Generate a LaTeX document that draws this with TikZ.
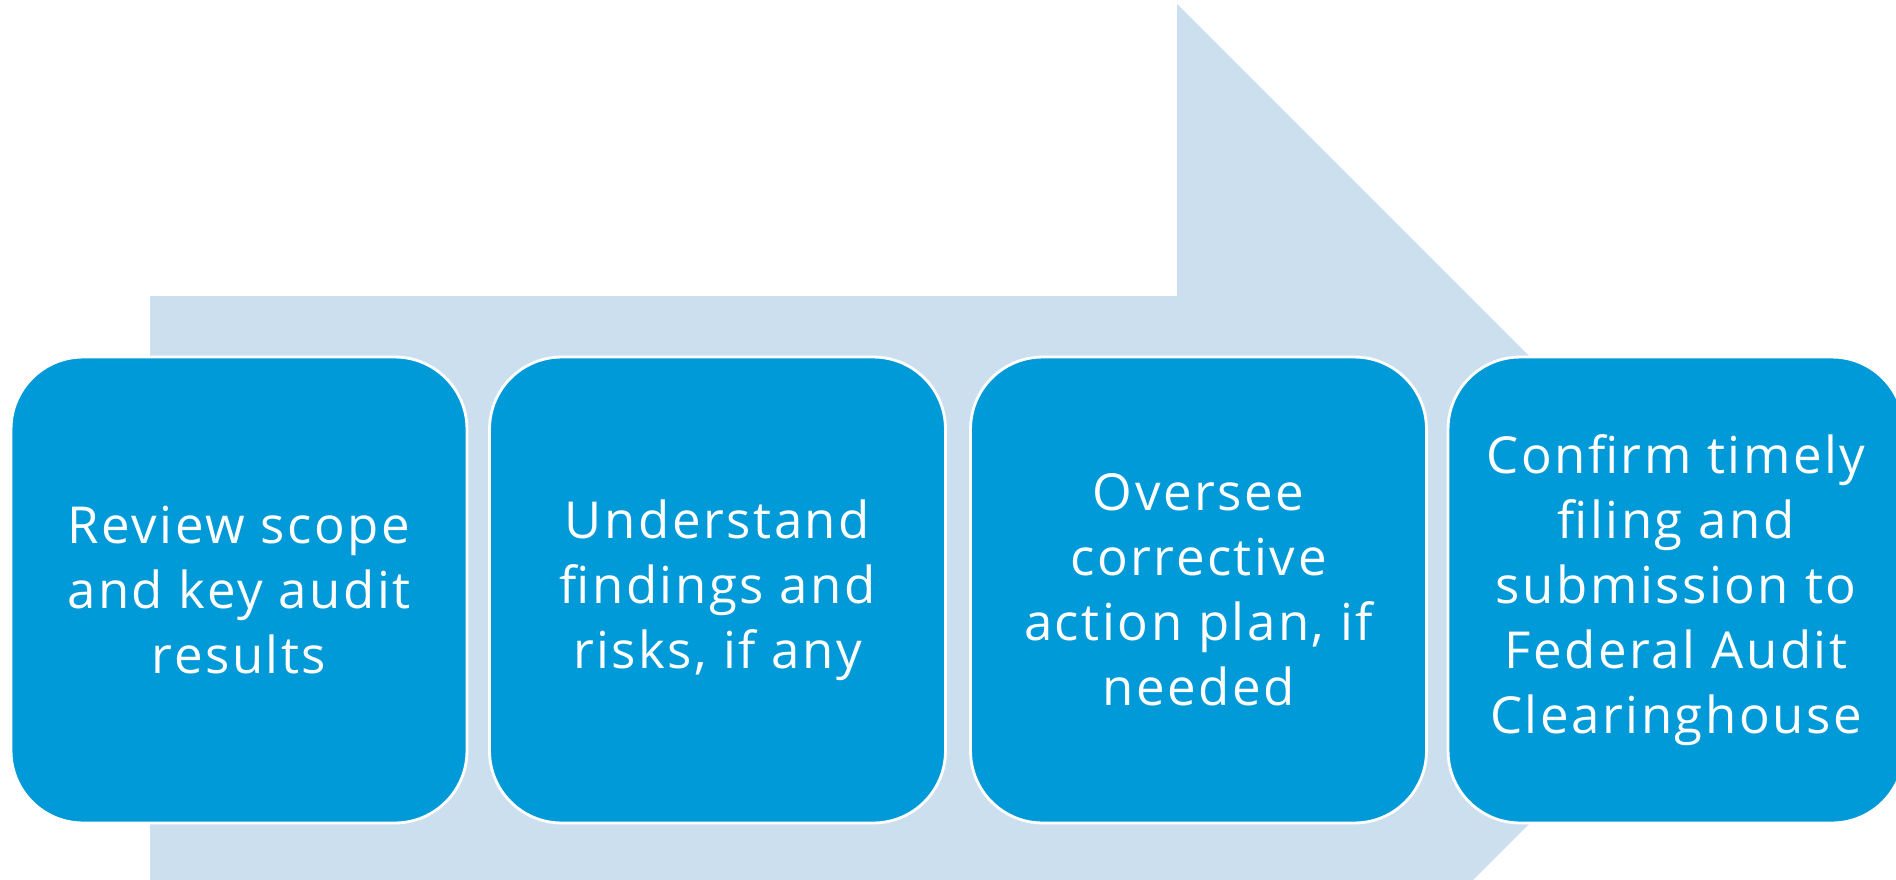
\documentclass[tikz,border=0pt]{standalone}
\usepackage{fontspec}
\setmainfont{Open Sans}[LetterSpace=5]
\definecolor{boxblue}{RGB}{0,154,216}
\definecolor{arrowblue}{RGB}{204,223,239}
\begin{document}
\begin{tikzpicture}[x=0.02cm,y=-0.02cm,
  stepbox/.style={draw=white, line width=1.6pt, fill=boxblue, rounded corners=1.44cm,
    minimum width=9.12cm, minimum height=9.32cm, text=white, align=center,
    font=\fontsize{29}{37}\selectfont, inner sep=0pt}]
\clip (0,0) rectangle (1896,879);
\fill[white] (0,0) rectangle (1896,879);
\fill[arrowblue] (150,296) -- (1177,296) -- (1177,4) -- (1763,590) -- (1177,1176) -- (1177,884) -- (150,884) -- cycle;
\node[stepbox] (s1) at (239,590) {Review scope\\and key audit\\results};
\node[stepbox] (s2) at (717.5,590) {Understand\\findings and\\risks, if any};
\node[stepbox] (s3) at (1198.5,590) {Oversee\\corrective\\action plan, if\\needed};
\node[stepbox] (s4) at (1676,590) {Confirm timely\\filing and\\submission to\\Federal Audit\\Clearinghouse};
\end{tikzpicture}
\end{document}
